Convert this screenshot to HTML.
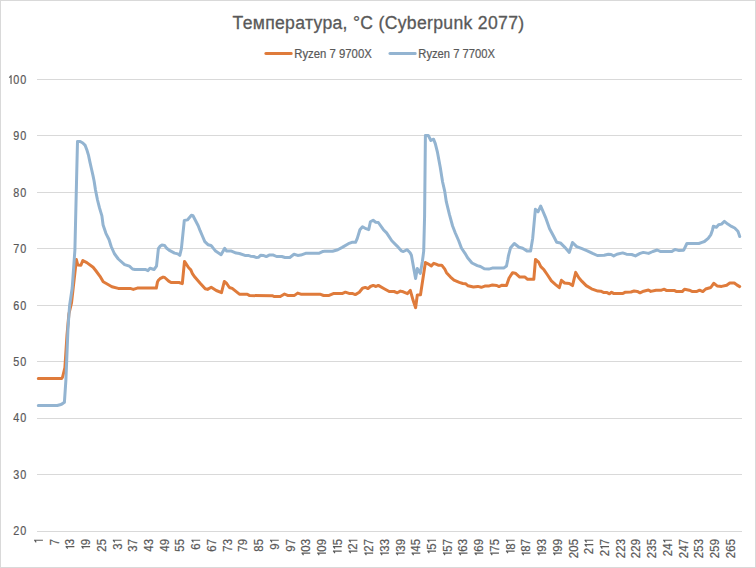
<!DOCTYPE html>
<html><head><meta charset="utf-8"><title>Температура, °C (Cyberpunk 2077)</title>
<style>
html,body{margin:0;padding:0;background:#fff;}
body{width:756px;height:568px;overflow:hidden;font-family:"Liberation Sans", sans-serif;}
svg{display:block;font-family:"Liberation Sans", sans-serif;}
text.t{stroke:#595959;stroke-width:0.3px;}
text.s{stroke:#595959;stroke-width:0.2px;}
</style></head><body>
<svg width="756" height="568" viewBox="0 0 756 568">
<rect x="0" y="0" width="756" height="568" fill="#fff"/>
<rect x="0.5" y="0.5" width="755" height="567" fill="none" stroke="#d9d9d9" stroke-width="1"/>
<rect x="37" y="79" width="705" height="1" fill="#d9d9d9"/>
<rect x="37" y="135" width="705" height="1" fill="#d9d9d9"/>
<rect x="37" y="192" width="705" height="1" fill="#d9d9d9"/>
<rect x="37" y="248" width="705" height="1" fill="#d9d9d9"/>
<rect x="37" y="305" width="705" height="1" fill="#d9d9d9"/>
<rect x="37" y="361" width="705" height="1" fill="#d9d9d9"/>
<rect x="37" y="418" width="705" height="1" fill="#d9d9d9"/>
<rect x="37" y="474" width="705" height="1" fill="#d9d9d9"/>
<rect x="37" y="531" width="705" height="1" fill="#d9d9d9"/>
<g transform="translate(0.00 83.90)"><text class="s" transform="translate(23.30 0) scale(0.9 1)" text-anchor="middle" font-size="12" fill="#595959">0</text><text class="s" transform="translate(16.30 0) scale(0.9 1)" text-anchor="middle" font-size="12" fill="#595959">0</text><path d="M11.05 0V-8.70M11.50 -8.50L9.20 -6.30" stroke="#595959" stroke-width="1.15" fill="none"/></g>
<g transform="translate(0.00 140.30)"><text class="s" transform="translate(23.30 0) scale(0.9 1)" text-anchor="middle" font-size="12" fill="#595959">0</text><text class="s" transform="translate(16.30 0) scale(0.9 1)" text-anchor="middle" font-size="12" fill="#595959">9</text></g>
<g transform="translate(0.00 196.70)"><text class="s" transform="translate(23.30 0) scale(0.9 1)" text-anchor="middle" font-size="12" fill="#595959">0</text><text class="s" transform="translate(16.30 0) scale(0.9 1)" text-anchor="middle" font-size="12" fill="#595959">8</text></g>
<g transform="translate(0.00 253.10)"><text class="s" transform="translate(23.30 0) scale(0.9 1)" text-anchor="middle" font-size="12" fill="#595959">0</text><text class="s" transform="translate(16.30 0) scale(0.9 1)" text-anchor="middle" font-size="12" fill="#595959">7</text></g>
<g transform="translate(0.00 309.50)"><text class="s" transform="translate(23.30 0) scale(0.9 1)" text-anchor="middle" font-size="12" fill="#595959">0</text><text class="s" transform="translate(16.30 0) scale(0.9 1)" text-anchor="middle" font-size="12" fill="#595959">6</text></g>
<g transform="translate(0.00 365.90)"><text class="s" transform="translate(23.30 0) scale(0.9 1)" text-anchor="middle" font-size="12" fill="#595959">0</text><text class="s" transform="translate(16.30 0) scale(0.9 1)" text-anchor="middle" font-size="12" fill="#595959">5</text></g>
<g transform="translate(0.00 422.30)"><text class="s" transform="translate(23.30 0) scale(0.9 1)" text-anchor="middle" font-size="12" fill="#595959">0</text><text class="s" transform="translate(16.30 0) scale(0.9 1)" text-anchor="middle" font-size="12" fill="#595959">4</text></g>
<g transform="translate(0.00 478.70)"><text class="s" transform="translate(23.30 0) scale(0.9 1)" text-anchor="middle" font-size="12" fill="#595959">0</text><text class="s" transform="translate(16.30 0) scale(0.9 1)" text-anchor="middle" font-size="12" fill="#595959">3</text></g>
<g transform="translate(0.00 535.10)"><text class="s" transform="translate(23.30 0) scale(0.9 1)" text-anchor="middle" font-size="12" fill="#595959">0</text><text class="s" transform="translate(16.30 0) scale(0.9 1)" text-anchor="middle" font-size="12" fill="#595959">2</text></g>
<g transform="translate(42.91 539.00) rotate(-90)"><path d="M-1.25 0V-8.70M-0.80 -8.50L-3.30 -6.70" stroke="#595959" stroke-width="1.15" fill="none"/></g>
<g transform="translate(58.64 539.00) rotate(-90)"><text class="s" transform="translate(-3.20 0) scale(0.95 1)" text-anchor="middle" font-size="12" fill="#595959">7</text></g>
<g transform="translate(74.36 539.00) rotate(-90)"><text class="s" transform="translate(-3.20 0) scale(0.95 1)" text-anchor="middle" font-size="12" fill="#595959">3</text><path d="M-7.65 0V-8.70M-7.20 -8.50L-9.70 -6.70" stroke="#595959" stroke-width="1.15" fill="none"/></g>
<g transform="translate(90.09 539.00) rotate(-90)"><text class="s" transform="translate(-3.20 0) scale(0.95 1)" text-anchor="middle" font-size="12" fill="#595959">9</text><path d="M-7.65 0V-8.70M-7.20 -8.50L-9.70 -6.70" stroke="#595959" stroke-width="1.15" fill="none"/></g>
<g transform="translate(105.81 539.00) rotate(-90)"><text class="s" transform="translate(-3.20 0) scale(0.95 1)" text-anchor="middle" font-size="12" fill="#595959">5</text><text class="s" transform="translate(-9.60 0) scale(0.95 1)" text-anchor="middle" font-size="12" fill="#595959">2</text></g>
<g transform="translate(121.53 539.00) rotate(-90)"><path d="M-1.25 0V-8.70M-0.80 -8.50L-3.30 -6.70" stroke="#595959" stroke-width="1.15" fill="none"/><text class="s" transform="translate(-7.60 0) scale(0.95 1)" text-anchor="middle" font-size="12" fill="#595959">3</text></g>
<g transform="translate(137.26 539.00) rotate(-90)"><text class="s" transform="translate(-3.20 0) scale(0.95 1)" text-anchor="middle" font-size="12" fill="#595959">7</text><text class="s" transform="translate(-9.60 0) scale(0.95 1)" text-anchor="middle" font-size="12" fill="#595959">3</text></g>
<g transform="translate(152.98 539.00) rotate(-90)"><text class="s" transform="translate(-3.20 0) scale(0.95 1)" text-anchor="middle" font-size="12" fill="#595959">3</text><text class="s" transform="translate(-9.60 0) scale(0.95 1)" text-anchor="middle" font-size="12" fill="#595959">4</text></g>
<g transform="translate(168.71 539.00) rotate(-90)"><text class="s" transform="translate(-3.20 0) scale(0.95 1)" text-anchor="middle" font-size="12" fill="#595959">9</text><text class="s" transform="translate(-9.60 0) scale(0.95 1)" text-anchor="middle" font-size="12" fill="#595959">4</text></g>
<g transform="translate(184.43 539.00) rotate(-90)"><text class="s" transform="translate(-3.20 0) scale(0.95 1)" text-anchor="middle" font-size="12" fill="#595959">5</text><text class="s" transform="translate(-9.60 0) scale(0.95 1)" text-anchor="middle" font-size="12" fill="#595959">5</text></g>
<g transform="translate(200.16 539.00) rotate(-90)"><path d="M-1.25 0V-8.70M-0.80 -8.50L-3.30 -6.70" stroke="#595959" stroke-width="1.15" fill="none"/><text class="s" transform="translate(-7.60 0) scale(0.95 1)" text-anchor="middle" font-size="12" fill="#595959">6</text></g>
<g transform="translate(215.88 539.00) rotate(-90)"><text class="s" transform="translate(-3.20 0) scale(0.95 1)" text-anchor="middle" font-size="12" fill="#595959">7</text><text class="s" transform="translate(-9.60 0) scale(0.95 1)" text-anchor="middle" font-size="12" fill="#595959">6</text></g>
<g transform="translate(231.61 539.00) rotate(-90)"><text class="s" transform="translate(-3.20 0) scale(0.95 1)" text-anchor="middle" font-size="12" fill="#595959">3</text><text class="s" transform="translate(-9.60 0) scale(0.95 1)" text-anchor="middle" font-size="12" fill="#595959">7</text></g>
<g transform="translate(247.33 539.00) rotate(-90)"><text class="s" transform="translate(-3.20 0) scale(0.95 1)" text-anchor="middle" font-size="12" fill="#595959">9</text><text class="s" transform="translate(-9.60 0) scale(0.95 1)" text-anchor="middle" font-size="12" fill="#595959">7</text></g>
<g transform="translate(263.06 539.00) rotate(-90)"><text class="s" transform="translate(-3.20 0) scale(0.95 1)" text-anchor="middle" font-size="12" fill="#595959">5</text><text class="s" transform="translate(-9.60 0) scale(0.95 1)" text-anchor="middle" font-size="12" fill="#595959">8</text></g>
<g transform="translate(278.78 539.00) rotate(-90)"><path d="M-1.25 0V-8.70M-0.80 -8.50L-3.30 -6.70" stroke="#595959" stroke-width="1.15" fill="none"/><text class="s" transform="translate(-7.60 0) scale(0.95 1)" text-anchor="middle" font-size="12" fill="#595959">9</text></g>
<g transform="translate(294.51 539.00) rotate(-90)"><text class="s" transform="translate(-3.20 0) scale(0.95 1)" text-anchor="middle" font-size="12" fill="#595959">7</text><text class="s" transform="translate(-9.60 0) scale(0.95 1)" text-anchor="middle" font-size="12" fill="#595959">9</text></g>
<g transform="translate(310.23 539.00) rotate(-90)"><text class="s" transform="translate(-3.20 0) scale(0.95 1)" text-anchor="middle" font-size="12" fill="#595959">3</text><text class="s" transform="translate(-9.60 0) scale(0.95 1)" text-anchor="middle" font-size="12" fill="#595959">0</text><path d="M-14.05 0V-8.70M-13.60 -8.50L-16.10 -6.70" stroke="#595959" stroke-width="1.15" fill="none"/></g>
<g transform="translate(325.96 539.00) rotate(-90)"><text class="s" transform="translate(-3.20 0) scale(0.95 1)" text-anchor="middle" font-size="12" fill="#595959">9</text><text class="s" transform="translate(-9.60 0) scale(0.95 1)" text-anchor="middle" font-size="12" fill="#595959">0</text><path d="M-14.05 0V-8.70M-13.60 -8.50L-16.10 -6.70" stroke="#595959" stroke-width="1.15" fill="none"/></g>
<g transform="translate(341.68 539.00) rotate(-90)"><text class="s" transform="translate(-3.20 0) scale(0.95 1)" text-anchor="middle" font-size="12" fill="#595959">5</text><path d="M-7.65 0V-8.70M-7.20 -8.50L-9.70 -6.70" stroke="#595959" stroke-width="1.15" fill="none"/><path d="M-12.05 0V-8.70M-11.60 -8.50L-14.10 -6.70" stroke="#595959" stroke-width="1.15" fill="none"/></g>
<g transform="translate(357.41 539.00) rotate(-90)"><path d="M-1.25 0V-8.70M-0.80 -8.50L-3.30 -6.70" stroke="#595959" stroke-width="1.15" fill="none"/><text class="s" transform="translate(-7.60 0) scale(0.95 1)" text-anchor="middle" font-size="12" fill="#595959">2</text><path d="M-12.05 0V-8.70M-11.60 -8.50L-14.10 -6.70" stroke="#595959" stroke-width="1.15" fill="none"/></g>
<g transform="translate(373.13 539.00) rotate(-90)"><text class="s" transform="translate(-3.20 0) scale(0.95 1)" text-anchor="middle" font-size="12" fill="#595959">7</text><text class="s" transform="translate(-9.60 0) scale(0.95 1)" text-anchor="middle" font-size="12" fill="#595959">2</text><path d="M-14.05 0V-8.70M-13.60 -8.50L-16.10 -6.70" stroke="#595959" stroke-width="1.15" fill="none"/></g>
<g transform="translate(388.86 539.00) rotate(-90)"><text class="s" transform="translate(-3.20 0) scale(0.95 1)" text-anchor="middle" font-size="12" fill="#595959">3</text><text class="s" transform="translate(-9.60 0) scale(0.95 1)" text-anchor="middle" font-size="12" fill="#595959">3</text><path d="M-14.05 0V-8.70M-13.60 -8.50L-16.10 -6.70" stroke="#595959" stroke-width="1.15" fill="none"/></g>
<g transform="translate(404.58 539.00) rotate(-90)"><text class="s" transform="translate(-3.20 0) scale(0.95 1)" text-anchor="middle" font-size="12" fill="#595959">9</text><text class="s" transform="translate(-9.60 0) scale(0.95 1)" text-anchor="middle" font-size="12" fill="#595959">3</text><path d="M-14.05 0V-8.70M-13.60 -8.50L-16.10 -6.70" stroke="#595959" stroke-width="1.15" fill="none"/></g>
<g transform="translate(420.31 539.00) rotate(-90)"><text class="s" transform="translate(-3.20 0) scale(0.95 1)" text-anchor="middle" font-size="12" fill="#595959">5</text><text class="s" transform="translate(-9.60 0) scale(0.95 1)" text-anchor="middle" font-size="12" fill="#595959">4</text><path d="M-14.05 0V-8.70M-13.60 -8.50L-16.10 -6.70" stroke="#595959" stroke-width="1.15" fill="none"/></g>
<g transform="translate(436.03 539.00) rotate(-90)"><path d="M-1.25 0V-8.70M-0.80 -8.50L-3.30 -6.70" stroke="#595959" stroke-width="1.15" fill="none"/><text class="s" transform="translate(-7.60 0) scale(0.95 1)" text-anchor="middle" font-size="12" fill="#595959">5</text><path d="M-12.05 0V-8.70M-11.60 -8.50L-14.10 -6.70" stroke="#595959" stroke-width="1.15" fill="none"/></g>
<g transform="translate(451.76 539.00) rotate(-90)"><text class="s" transform="translate(-3.20 0) scale(0.95 1)" text-anchor="middle" font-size="12" fill="#595959">7</text><text class="s" transform="translate(-9.60 0) scale(0.95 1)" text-anchor="middle" font-size="12" fill="#595959">5</text><path d="M-14.05 0V-8.70M-13.60 -8.50L-16.10 -6.70" stroke="#595959" stroke-width="1.15" fill="none"/></g>
<g transform="translate(467.48 539.00) rotate(-90)"><text class="s" transform="translate(-3.20 0) scale(0.95 1)" text-anchor="middle" font-size="12" fill="#595959">3</text><text class="s" transform="translate(-9.60 0) scale(0.95 1)" text-anchor="middle" font-size="12" fill="#595959">6</text><path d="M-14.05 0V-8.70M-13.60 -8.50L-16.10 -6.70" stroke="#595959" stroke-width="1.15" fill="none"/></g>
<g transform="translate(483.21 539.00) rotate(-90)"><text class="s" transform="translate(-3.20 0) scale(0.95 1)" text-anchor="middle" font-size="12" fill="#595959">9</text><text class="s" transform="translate(-9.60 0) scale(0.95 1)" text-anchor="middle" font-size="12" fill="#595959">6</text><path d="M-14.05 0V-8.70M-13.60 -8.50L-16.10 -6.70" stroke="#595959" stroke-width="1.15" fill="none"/></g>
<g transform="translate(498.93 539.00) rotate(-90)"><text class="s" transform="translate(-3.20 0) scale(0.95 1)" text-anchor="middle" font-size="12" fill="#595959">5</text><text class="s" transform="translate(-9.60 0) scale(0.95 1)" text-anchor="middle" font-size="12" fill="#595959">7</text><path d="M-14.05 0V-8.70M-13.60 -8.50L-16.10 -6.70" stroke="#595959" stroke-width="1.15" fill="none"/></g>
<g transform="translate(514.66 539.00) rotate(-90)"><path d="M-1.25 0V-8.70M-0.80 -8.50L-3.30 -6.70" stroke="#595959" stroke-width="1.15" fill="none"/><text class="s" transform="translate(-7.60 0) scale(0.95 1)" text-anchor="middle" font-size="12" fill="#595959">8</text><path d="M-12.05 0V-8.70M-11.60 -8.50L-14.10 -6.70" stroke="#595959" stroke-width="1.15" fill="none"/></g>
<g transform="translate(530.38 539.00) rotate(-90)"><text class="s" transform="translate(-3.20 0) scale(0.95 1)" text-anchor="middle" font-size="12" fill="#595959">7</text><text class="s" transform="translate(-9.60 0) scale(0.95 1)" text-anchor="middle" font-size="12" fill="#595959">8</text><path d="M-14.05 0V-8.70M-13.60 -8.50L-16.10 -6.70" stroke="#595959" stroke-width="1.15" fill="none"/></g>
<g transform="translate(546.11 539.00) rotate(-90)"><text class="s" transform="translate(-3.20 0) scale(0.95 1)" text-anchor="middle" font-size="12" fill="#595959">3</text><text class="s" transform="translate(-9.60 0) scale(0.95 1)" text-anchor="middle" font-size="12" fill="#595959">9</text><path d="M-14.05 0V-8.70M-13.60 -8.50L-16.10 -6.70" stroke="#595959" stroke-width="1.15" fill="none"/></g>
<g transform="translate(561.83 539.00) rotate(-90)"><text class="s" transform="translate(-3.20 0) scale(0.95 1)" text-anchor="middle" font-size="12" fill="#595959">9</text><text class="s" transform="translate(-9.60 0) scale(0.95 1)" text-anchor="middle" font-size="12" fill="#595959">9</text><path d="M-14.05 0V-8.70M-13.60 -8.50L-16.10 -6.70" stroke="#595959" stroke-width="1.15" fill="none"/></g>
<g transform="translate(577.56 539.00) rotate(-90)"><text class="s" transform="translate(-3.20 0) scale(0.95 1)" text-anchor="middle" font-size="12" fill="#595959">5</text><text class="s" transform="translate(-9.60 0) scale(0.95 1)" text-anchor="middle" font-size="12" fill="#595959">0</text><text class="s" transform="translate(-16.00 0) scale(0.95 1)" text-anchor="middle" font-size="12" fill="#595959">2</text></g>
<g transform="translate(593.28 539.00) rotate(-90)"><path d="M-1.25 0V-8.70M-0.80 -8.50L-3.30 -6.70" stroke="#595959" stroke-width="1.15" fill="none"/><path d="M-5.65 0V-8.70M-5.20 -8.50L-7.70 -6.70" stroke="#595959" stroke-width="1.15" fill="none"/><text class="s" transform="translate(-12.00 0) scale(0.95 1)" text-anchor="middle" font-size="12" fill="#595959">2</text></g>
<g transform="translate(609.01 539.00) rotate(-90)"><text class="s" transform="translate(-3.20 0) scale(0.95 1)" text-anchor="middle" font-size="12" fill="#595959">7</text><path d="M-7.65 0V-8.70M-7.20 -8.50L-9.70 -6.70" stroke="#595959" stroke-width="1.15" fill="none"/><text class="s" transform="translate(-14.00 0) scale(0.95 1)" text-anchor="middle" font-size="12" fill="#595959">2</text></g>
<g transform="translate(624.73 539.00) rotate(-90)"><text class="s" transform="translate(-3.20 0) scale(0.95 1)" text-anchor="middle" font-size="12" fill="#595959">3</text><text class="s" transform="translate(-9.60 0) scale(0.95 1)" text-anchor="middle" font-size="12" fill="#595959">2</text><text class="s" transform="translate(-16.00 0) scale(0.95 1)" text-anchor="middle" font-size="12" fill="#595959">2</text></g>
<g transform="translate(640.46 539.00) rotate(-90)"><text class="s" transform="translate(-3.20 0) scale(0.95 1)" text-anchor="middle" font-size="12" fill="#595959">9</text><text class="s" transform="translate(-9.60 0) scale(0.95 1)" text-anchor="middle" font-size="12" fill="#595959">2</text><text class="s" transform="translate(-16.00 0) scale(0.95 1)" text-anchor="middle" font-size="12" fill="#595959">2</text></g>
<g transform="translate(656.18 539.00) rotate(-90)"><text class="s" transform="translate(-3.20 0) scale(0.95 1)" text-anchor="middle" font-size="12" fill="#595959">5</text><text class="s" transform="translate(-9.60 0) scale(0.95 1)" text-anchor="middle" font-size="12" fill="#595959">3</text><text class="s" transform="translate(-16.00 0) scale(0.95 1)" text-anchor="middle" font-size="12" fill="#595959">2</text></g>
<g transform="translate(671.91 539.00) rotate(-90)"><path d="M-1.25 0V-8.70M-0.80 -8.50L-3.30 -6.70" stroke="#595959" stroke-width="1.15" fill="none"/><text class="s" transform="translate(-7.60 0) scale(0.95 1)" text-anchor="middle" font-size="12" fill="#595959">4</text><text class="s" transform="translate(-14.00 0) scale(0.95 1)" text-anchor="middle" font-size="12" fill="#595959">2</text></g>
<g transform="translate(687.63 539.00) rotate(-90)"><text class="s" transform="translate(-3.20 0) scale(0.95 1)" text-anchor="middle" font-size="12" fill="#595959">7</text><text class="s" transform="translate(-9.60 0) scale(0.95 1)" text-anchor="middle" font-size="12" fill="#595959">4</text><text class="s" transform="translate(-16.00 0) scale(0.95 1)" text-anchor="middle" font-size="12" fill="#595959">2</text></g>
<g transform="translate(703.36 539.00) rotate(-90)"><text class="s" transform="translate(-3.20 0) scale(0.95 1)" text-anchor="middle" font-size="12" fill="#595959">3</text><text class="s" transform="translate(-9.60 0) scale(0.95 1)" text-anchor="middle" font-size="12" fill="#595959">5</text><text class="s" transform="translate(-16.00 0) scale(0.95 1)" text-anchor="middle" font-size="12" fill="#595959">2</text></g>
<g transform="translate(719.08 539.00) rotate(-90)"><text class="s" transform="translate(-3.20 0) scale(0.95 1)" text-anchor="middle" font-size="12" fill="#595959">9</text><text class="s" transform="translate(-9.60 0) scale(0.95 1)" text-anchor="middle" font-size="12" fill="#595959">5</text><text class="s" transform="translate(-16.00 0) scale(0.95 1)" text-anchor="middle" font-size="12" fill="#595959">2</text></g>
<g transform="translate(734.81 539.00) rotate(-90)"><text class="s" transform="translate(-3.20 0) scale(0.95 1)" text-anchor="middle" font-size="12" fill="#595959">5</text><text class="s" transform="translate(-9.60 0) scale(0.95 1)" text-anchor="middle" font-size="12" fill="#595959">6</text><text class="s" transform="translate(-16.00 0) scale(0.95 1)" text-anchor="middle" font-size="12" fill="#595959">2</text></g>
<polyline points="38.3,378.5 61.7,378.5 62.6,377.0 64.9,367.6 67.0,335.2 68.9,314.0 71.5,303.0 76.4,259.5 77.8,265.0 80.9,265.2 82.8,260.5 86.8,262.6 93.1,267.3 95.7,270.5 100.0,276.3 103.2,281.8 106.3,283.5 111.9,286.7 118.3,288.4 130.2,288.4 133.3,289.4 137.3,288.1 156.3,288.1 157.5,281.9 158.4,280.3 160.0,278.7 163.1,277.1 164.7,277.5 168.7,281.1 171.1,282.5 179.0,282.5 182.3,283.6 184.5,261.4 186.6,264.6 188.7,267.8 190.8,269.9 192.4,273.6 195.0,277.3 200.4,283.5 205.2,288.7 207.6,289.4 211.2,287.3 216.3,290.5 221.5,292.6 224.3,281.5 226.7,283.5 229.4,287.5 232.2,288.4 239.4,294.2 247.3,294.2 249.7,295.6 272.3,295.7 273.9,296.5 280.3,296.5 284.5,294.0 287.6,295.4 294.5,295.4 297.7,293.1 300.8,294.2 319.9,294.2 323.6,295.5 329.1,295.4 333.9,293.4 342.6,293.4 345.4,292.2 349.0,293.4 352.2,293.4 355.3,294.6 359.3,292.2 362.5,288.2 365.3,287.4 368.0,288.6 370.4,286.5 373.2,285.4 376.0,286.5 378.3,285.4 384.2,288.7 389.2,291.5 394.1,291.5 397.3,292.8 400.4,291.1 403.2,291.8 407.5,293.6 410.3,290.4 413.1,300.3 415.6,307.7 417.3,295.0 420.5,294.7 425.4,262.5 427.9,263.8 431.3,265.9 433.8,263.3 436.0,264.2 438.2,265.2 441.7,265.2 444.8,269.2 446.5,272.7 450.5,277.1 454.0,280.2 459.3,282.4 462.8,283.5 465.5,283.7 468.1,285.8 473.4,287.0 477.8,286.4 481.3,287.3 484.8,286.1 489.2,285.9 492.4,285.0 496.8,285.5 499.0,286.6 502.1,285.2 506.5,285.5 509.1,278.0 512.6,272.7 515.3,273.2 519.7,277.1 525.0,277.1 527.6,279.3 533.8,279.3 535.5,259.5 538.6,262.2 540.8,266.6 544.0,269.8 547.2,274.5 551.4,280.9 555.6,284.6 559.3,287.7 561.4,280.3 564.6,283.0 569.3,283.5 572.5,285.6 575.7,272.4 578.8,277.7 582.0,281.4 586.2,285.6 591.5,288.8 597.9,291.1 600.8,291.2 603.9,292.6 607.1,292.6 609.5,293.8 611.5,292.2 613.5,293.4 623.0,293.4 625.4,292.2 630.9,292.0 634.1,291.0 637.3,291.4 640.0,292.8 643.6,291.2 648.4,290.0 650.8,291.4 656.0,290.2 661.5,290.2 664.3,289.2 666.3,290.4 674.2,290.4 676.6,291.6 682.2,291.6 684.5,289.2 689.3,290.2 692.5,291.6 696.4,291.6 699.6,290.2 702.8,291.6 705.7,289.0 710.8,287.5 713.7,283.3 717.1,285.9 721.6,286.4 726.7,285.2 729.8,283.0 734.3,283.0 736.8,284.9 739.7,286.6" fill="none" stroke="#DF7B3B" stroke-width="3" stroke-linejoin="round" stroke-linecap="round"/>
<polyline points="38.3,405.5 57.3,405.5 60.0,404.8 62.0,404.0 64.4,402.3 65.9,380.0 67.0,353.0 68.0,328.0 69.6,305.5 72.2,288.0 74.9,250.0 76.8,170.0 77.5,141.5 80.2,141.5 82.8,143.0 85.2,145.4 87.1,150.6 88.6,155.7 90.0,162.4 91.5,169.0 93.0,175.7 94.1,181.0 95.5,190.0 97.5,200.0 99.5,207.9 101.9,215.9 103.1,225.0 105.9,233.3 109.0,239.5 111.2,246.5 114.3,253.5 118.3,259.0 124.6,264.6 129.4,266.2 132.5,269.0 134.9,269.4 145.2,269.4 148.0,270.6 150.0,268.2 152.4,269.0 154.0,269.5 156.5,266.2 158.4,248.7 160.0,246.3 161.9,245.1 164.7,245.5 166.7,248.3 169.9,250.7 174.6,253.1 177.8,253.9 179.8,255.4 181.4,248.7 184.3,220.5 187.4,219.9 191.4,215.3 193.0,215.8 198.2,225.8 200.1,230.7 202.4,236.0 204.8,241.6 208.0,244.7 211.0,245.5 212.4,247.1 215.6,251.1 221.1,254.7 224.7,248.3 226.7,251.1 231.4,251.1 236.2,253.1 239.4,253.5 244.9,255.4 248.1,255.4 250.5,256.2 253.7,256.5 256.0,257.4 258.4,257.3 260.8,255.2 263.2,255.4 266.3,256.6 269.2,255.1 273.4,255.1 276.6,256.5 281.8,256.5 285.0,257.5 289.8,257.5 294.0,254.2 297.7,255.4 300.8,255.1 305.6,253.3 318.8,253.3 323.0,251.4 324.6,251.3 332.6,251.3 337.8,249.8 342.2,247.4 348.4,243.7 351.9,242.3 355.5,242.3 357.2,238.6 359.9,229.8 362.5,226.7 366.0,228.7 368.7,229.6 370.4,221.8 373.1,220.3 375.7,222.3 378.3,222.5 383.4,229.7 386.6,232.9 391.8,240.8 397.1,246.1 401.3,250.8 403.4,251.5 407.2,249.7 410.1,252.8 411.4,255.3 413.5,267.1 415.6,278.5 417.3,268.4 420.3,273.5 422.4,261.2 423.7,251.1 424.6,216.0 425.4,135.5 428.3,135.5 430.9,140.5 433.6,139.2 435.3,143.6 437.5,152.4 440.2,167.0 442.6,182.0 444.7,191.1 446.3,201.7 449.4,214.4 452.6,226.0 455.3,233.0 458.8,241.0 461.4,248.0 465.0,253.3 467.6,257.7 472.0,263.0 477.3,265.6 480.4,266.5 484.3,268.7 488.7,269.1 492.3,268.1 503.7,268.1 506.5,266.0 507.8,259.5 508.4,256.0 510.6,247.7 514.3,243.5 519.0,247.2 522.7,248.3 526.9,250.9 530.6,250.9 532.7,238.2 535.4,209.2 538.0,211.8 540.7,206.0 545.4,217.1 549.6,228.7 553.5,236.0 556.7,242.3 560.4,242.9 564.6,247.1 569.3,252.4 572.5,242.5 576.7,246.6 582.0,248.7 587.3,250.8 592.6,253.4 597.3,255.5 604.2,255.3 608.4,254.2 611.1,254.5 613.7,255.9 616.9,254.2 622.7,252.9 626.4,254.2 631.7,254.5 635.4,255.9 640.1,253.4 643.3,252.4 648.6,253.4 652.8,251.5 657.2,250.0 660.7,251.6 671.8,251.6 675.0,249.4 679.0,250.6 683.7,250.2 686.9,243.5 698.8,243.5 702.0,242.3 704.4,241.5 708.2,238.3 710.9,234.6 712.5,229.9 713.3,226.2 716.4,227.2 718.6,224.8 721.5,224.1 724.4,221.4 727.8,224.1 731.5,226.4 734.7,228.0 737.9,231.2 738.9,234.1 739.7,236.5" fill="none" stroke="#93B4D1" stroke-width="3" stroke-linejoin="round" stroke-linecap="round"/>
<text class="t" x="232.6" y="28.8" font-size="17.6" fill="#595959" textLength="291.5" lengthAdjust="spacing">Температура, °C (Cyberpunk 2077)</text>
<line x1="265.8" y1="53.5" x2="291.2" y2="53.4" stroke="#DF7B3B" stroke-width="3" stroke-linecap="round"/>
<text class="s" x="294.2" y="57.9" font-size="12" fill="#595959" textLength="77.6" lengthAdjust="spacingAndGlyphs">Ryzen 7 9700X</text>
<line x1="389.9" y1="53.5" x2="415.2" y2="53.4" stroke="#93B4D1" stroke-width="3" stroke-linecap="round"/>
<text class="s" x="418.3" y="57.9" font-size="12" fill="#595959" textLength="76.6" lengthAdjust="spacingAndGlyphs">Ryzen 7 7700X</text>
</svg>
</body></html>
